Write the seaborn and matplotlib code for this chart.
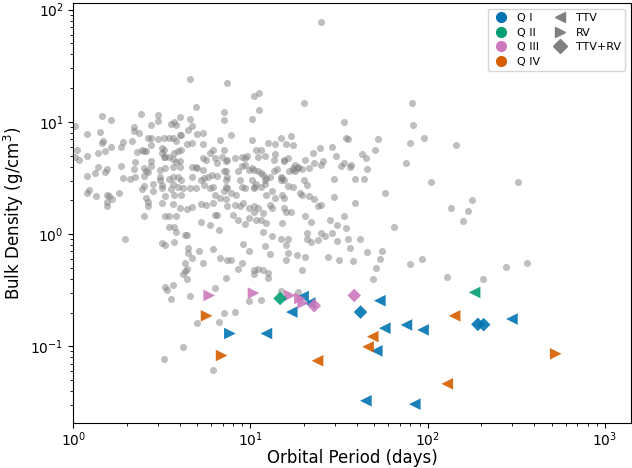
import matplotlib.pyplot as plt
import numpy as np
import pandas as pd
import seaborn as sns
from matplotlib.lines import Line2D

# background sample, stored as log10(period / days) and log10(density / g cm^-3)
# short periods (1 - 5.6 d)
logp_short = [0.66, 0.69, 0.16, 0.21, 0.38, 0.48, 0.48, 0.60, 0.66, 0.44,
              0.55, 0.57, 0.58, 0.67, 0.01, 0.08, 0.15, 0.34, 0.34, 0.37,
              0.65, 0.70, 0.73, 0.17, 0.16, 0.21, 0.28, 0.27, 0.33, 0.42,
              0.44, 0.48, 0.51, 0.54, 0.56, 0.58, 0.60, 0.61, 0.64, 0.67,
              0.02, 0.01, 0.03, 0.08, 0.14, 0.18, 0.36, 0.39, 0.40, 0.41,
              0.44, 0.50, 0.51, 0.50, 0.51, 0.52, 0.54, 0.57, 0.59, 0.61,
              0.56, 0.60, 0.14, 0.19, 0.18, 0.27, 0.35, 0.34, 0.40, 0.41,
              0.44, 0.44, 0.49, 0.52, 0.56, 0.58, 0.60, 0.67, 0.69, 0.70,
              0.08, 0.12, 0.28, 0.32, 0.35, 0.40, 0.42, 0.49, 0.49, 0.54,
              0.56, 0.59, 0.61, 0.67, 0.72, 0.08, 0.09, 0.13, 0.19, 0.20,
              0.19, 0.22, 0.26, 0.39, 0.40, 0.45, 0.45, 0.50, 0.50, 0.55,
              0.56, 0.59, 0.62, 0.66, 0.69, 0.19, 0.41, 0.42, 0.42, 0.50,
              0.52, 0.56, 0.57, 0.61, 0.60, 0.64, 0.67, 0.72, 0.40, 0.52,
              0.54, 0.58, 0.54, 0.57, 0.58, 0.63, 0.64, 0.72, 0.29, 0.50,
              0.52, 0.57, 0.65, 0.65, 0.67, 0.71, 0.63, 0.64, 0.63, 0.62,
              0.64, 0.52, 0.53, 0.56, 0.66, 0.55]
logrho_short = [1.38, 1.13, 1.05, 1.02, 1.07, 1.06, 1.01, 1.04, 1.03, 0.97,
                0.98, 1.00, 0.97, 0.96, 0.96, 0.89, 0.91, 0.92, 0.95, 0.90,
                0.93, 0.89, 0.90, 0.83, 0.81, 0.78, 0.82, 0.78, 0.83, 0.86,
                0.86, 0.85, 0.86, 0.86, 0.86, 0.83, 0.88, 0.88, 0.80, 0.81,
                0.75, 0.69, 0.66, 0.70, 0.72, 0.74, 0.73, 0.75, 0.74, 0.74,
                0.79, 0.77, 0.75, 0.72, 0.69, 0.69, 0.69, 0.72, 0.74, 0.75,
                0.67, 0.65, 0.60, 0.58, 0.55, 0.61, 0.64, 0.58, 0.59, 0.56,
                0.65, 0.61, 0.57, 0.59, 0.60, 0.64, 0.60, 0.60, 0.60, 0.59,
                0.52, 0.54, 0.50, 0.49, 0.51, 0.52, 0.55, 0.51, 0.48, 0.49,
                0.51, 0.51, 0.48, 0.51, 0.48, 0.37, 0.39, 0.34, 0.35, 0.34,
                0.29, 0.31, 0.37, 0.40, 0.43, 0.45, 0.38, 0.44, 0.41, 0.40,
                0.45, 0.42, 0.41, 0.41, 0.41, 0.25, 0.32, 0.29, 0.25, 0.28,
                0.34, 0.27, 0.35, 0.35, 0.23, 0.22, 0.24, 0.27, 0.16, 0.16,
                0.16, 0.16, 0.06, 0.06, 0.02, -0.01, -0.01, 0.11, -0.04, -0.08,
                -0.10, -0.07, -0.12, -0.17, -0.21, -0.15, -0.26, -0.31, -0.33, -0.36,
                -0.40, -0.47, -0.50, -0.45, -0.55, -0.58]

# mid periods (5.6 - 28 d)
logp_mid = [0.87, 1.02, 1.05, 0.85, 0.85, 1.05, 1.01, 1.30, 0.89, 0.83,
            1.01, 1.10, 1.17, 1.23, 1.20, 1.24, 1.14, 0.73, 0.73, 0.75,
            0.77, 0.79, 0.80, 0.81, 0.85, 0.84, 0.86, 0.87, 0.91, 0.95,
            0.97, 0.98, 1.03, 1.06, 1.08, 1.04, 1.14, 1.13, 1.19, 1.19,
            1.21, 1.25, 1.27, 1.31, 1.35, 1.39, 1.36, 1.40, 1.41, 1.33,
            0.73, 0.74, 0.76, 0.78, 0.81, 0.85, 0.86, 0.86, 0.87, 0.93,
            0.94, 0.95, 0.97, 0.99, 1.01, 1.02, 1.04, 1.06, 1.07, 1.08,
            1.09, 1.11, 1.13, 1.15, 1.17, 1.18, 1.19, 1.22, 1.24, 1.24,
            1.25, 1.27, 1.29, 1.30, 1.32, 0.74, 0.77, 0.79, 0.80, 0.85,
            0.86, 0.87, 0.89, 0.92, 0.95, 0.97, 1.01, 1.02, 1.02, 1.03,
            1.06, 1.08, 1.09, 1.12, 1.14, 1.17, 1.18, 1.19, 1.21, 1.24,
            1.28, 1.29, 1.33, 1.36, 1.40, 0.75, 0.79, 0.83, 0.86, 0.87,
            0.91, 0.94, 0.96, 0.99, 1.02, 1.02, 1.04, 1.07, 1.11, 1.12,
            1.19, 1.20, 1.23, 1.31, 1.34, 1.38, 0.77, 0.80, 0.81, 0.82,
            0.90, 0.93, 0.97, 0.99, 1.03, 1.06, 1.09, 1.07, 1.12, 1.17,
            1.18, 1.21, 1.32, 1.32, 1.34, 1.38, 1.40, 1.42, 0.96, 0.99,
            1.08, 1.11, 1.20, 1.21, 1.26, 1.31, 1.44, 0.73, 0.79, 0.83,
            0.87, 0.89, 0.93, 0.95, 1.02, 1.02, 1.04, 1.07, 1.10, 1.10,
            1.20, 1.29, 0.86, 0.80]
logrho_mid = [1.35, 1.23, 1.26, 1.09, 1.02, 1.11, 1.03, 1.17, 0.88, 0.84,
              0.84, 0.81, 0.86, 0.87, 0.80, 0.79, 0.80, 0.80, 0.68, 0.66,
              0.72, 0.75, 0.68, 0.63, 0.75, 0.69, 0.65, 0.66, 0.68, 0.69,
              0.68, 0.70, 0.75, 0.75, 0.70, 0.69, 0.71, 0.66, 0.65, 0.66,
              0.68, 0.62, 0.60, 0.66, 0.72, 0.77, 0.63, 0.62, 0.65, 0.59,
              0.57, 0.50, 0.51, 0.53, 0.52, 0.56, 0.48, 0.56, 0.51, 0.56,
              0.48, 0.61, 0.62, 0.57, 0.59, 0.57, 0.56, 0.54, 0.53, 0.48,
              0.50, 0.51, 0.56, 0.58, 0.51, 0.50, 0.48, 0.56, 0.57, 0.59,
              0.56, 0.59, 0.58, 0.48, 0.44, 0.44, 0.41, 0.42, 0.35, 0.38,
              0.42, 0.41, 0.37, 0.35, 0.42, 0.41, 0.48, 0.41, 0.42, 0.45,
              0.42, 0.45, 0.35, 0.38, 0.32, 0.48, 0.35, 0.32, 0.43, 0.42,
              0.37, 0.35, 0.34, 0.31, 0.26, 0.26, 0.28, 0.32, 0.31, 0.25,
              0.26, 0.25, 0.28, 0.23, 0.25, 0.20, 0.23, 0.19, 0.26, 0.23,
              0.23, 0.20, 0.20, 0.16, 0.11, 0.25, 0.08, 0.17, 0.17, 0.04,
              0.17, 0.13, 0.09, 0.14, 0.13, 0.13, 0.10, 0.02, -0.02, -0.04,
              0.10, -0.04, 0.01, -0.04, -0.07, -0.05, 0.01, -0.02, -0.09, -0.15,
              -0.11, -0.18, -0.10, -0.17, -0.19, -0.20, -0.20, -0.26, -0.13, -0.21,
              -0.23, -0.23, -0.31, -0.26, -0.32, -0.36, -0.31, -0.32, -0.35, -0.39,
              -0.23, -0.32, -0.39, -0.48]

# long periods (> 28 d)
logp_long = [1.91, 1.53, 1.92, 1.54, 1.55, 1.72, 1.98, 1.90, 1.46, 2.16,
             1.48, 1.63, 1.65, 1.70, 1.53, 1.51, 1.56, 1.57, 1.88, 1.66,
             1.47, 1.59, 1.64, 2.02, 2.51, 1.76, 1.47, 2.25, 1.59, 2.13,
             2.23, 1.53, 2.20, 1.45, 1.49, 1.54, 1.46, 1.81, 1.49, 1.55,
             1.62, 1.56, 1.66, 1.74, 1.73, 1.50, 1.58, 1.71, 1.69, 1.90,
             1.97, 2.11, 2.31, 2.44, 2.56]
logrho_long = [1.17, 1.00, 0.97, 0.86, 0.85, 0.85, 0.86, 0.81, 0.78, 0.79,
               0.70, 0.71, 0.68, 0.75, 0.63, 0.61, 0.60, 0.62, 0.63, 0.58,
               0.49, 0.49, 0.49, 0.46, 0.46, 0.37, 0.33, 0.30, 0.28, 0.23,
               0.21, 0.16, 0.12, 0.13, 0.08, 0.05, 0.01, 0.06, -0.06, -0.04,
               -0.04, -0.12, -0.16, -0.15, -0.22, -0.23, -0.24, -0.30, -0.40, -0.27,
               -0.22, -0.38, -0.40, -0.29, -0.26]

# low-density and outlying field planets
logp_low = [1.40, 0.99, 1.06, 0.85, 0.91, 0.82, 0.70, 0.79, 0.62, 0.51, 1.17, 1.27]
logrho_low = [1.89, -0.60, -0.59, -0.70, -0.69, -0.78, -0.79, -1.21, -1.01, -1.11, -0.51, -0.52]

# highlighted planets
period = [12.3, 17.1, 19.8, 21.6, 44.8, 51.6, 53.7, 57.3, 75.9, 84.6, 94.2, 299,
          7.65, 41.8, 192, 207,
          184, 14.7,
          5.85, 10.4, 16.7, 19.0, 19.8, 22.9, 38.5,
          23.9, 46.1, 49.0, 129, 142, 5.65, 6.87, 528]
density = [0.130, 0.202, 0.278, 0.243, 0.0327, 0.091, 0.255, 0.145, 0.155, 0.0305, 0.140, 0.175,
           0.130, 0.202, 0.157, 0.156,
           0.302, 0.267,
           0.284, 0.298, 0.284, 0.267, 0.243, 0.230, 0.284,
           0.0743, 0.099, 0.122, 0.0463, 0.187, 0.187, 0.0828, 0.0858]
quality = ['Q I'] * 16 + ['Q II'] * 2 + ['Q III'] * 7 + ['Q IV'] * 8
method = (['TTV'] * 12 + ['RV'] + ['TTV+RV'] * 3
          + ['TTV', 'TTV+RV']
          + ['RV'] * 5 + ['TTV+RV'] * 2
          + ['TTV'] * 5 + ['RV'] * 3)

q_colors = {'Q I': '#0173b2', 'Q II': '#029e73', 'Q III': '#cc78bc', 'Q IV': '#d55e00'}
m_markers = {'TTV': '<', 'RV': '>', 'TTV+RV': 'D'}
m_sizes = {'TTV': 70, 'RV': 70, 'TTV+RV': 48}

field = pd.DataFrame({
    'period': 10 ** np.array(logp_short + logp_mid + logp_long + logp_low),
    'density': 10 ** np.array(logrho_short + logrho_mid + logrho_long + logrho_low),
})
df = pd.DataFrame({'period': period, 'density': density,
                   'quality': quality, 'method': method})

fig, ax = plt.subplots(figsize=(6.32, 4.68), dpi=100)

sns.scatterplot(data=field, x='period', y='density', color='gray', alpha=0.5,
                s=26, linewidth=0, ax=ax)

for m in ['TTV', 'RV', 'TTV+RV']:
    sub = df[df['method'] == m]
    sns.scatterplot(data=sub, x='period', y='density', hue='quality',
                    palette=q_colors, marker=m_markers[m], s=m_sizes[m],
                    linewidth=0, alpha=0.9, legend=False, ax=ax)

ax.set_xscale('log')
ax.set_yscale('log')
ax.set_xlim(1, 1400)
ax.set_ylim(0.0207, 114)
ax.tick_params(axis='x', which='major', pad=2)
ax.set_xlabel('Orbital Period (days)', fontsize=12)
ax.set_ylabel('Bulk Density (g/cm$^3$)', fontsize=12)
ax.xaxis.set_label_coords(0.5, -0.061)
ax.yaxis.set_label_coords(-0.085, 0.5)

handles = [Line2D([], [], ls='', marker='o', color=c, markersize=7, label=q)
           for q, c in q_colors.items()]
handles += [Line2D([], [], ls='', marker=mk, color='gray', markersize=7, label=m)
            for m, mk in m_markers.items()]
ax.legend(handles=handles, ncol=2, loc='upper right', fontsize=8,
          columnspacing=1.0, labelspacing=0.4, handlelength=1.6,
          handletextpad=0.6)

fig.subplots_adjust(left=0.116, right=0.998, bottom=0.096, top=0.993)
fig.savefig('out.png', dpi=100)
